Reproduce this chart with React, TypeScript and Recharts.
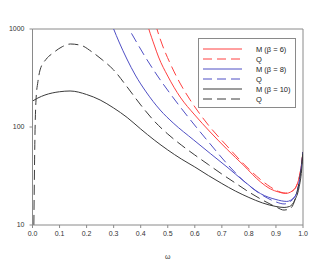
import React from 'react';
import { LineChart, Line, XAxis, YAxis, ReferenceLine, Legend } from 'recharts';

// omega grid + values for each series
const m6W = [0.41, 0.43, 0.45, 0.466, 0.5, 0.546, 0.6, 0.657, 0.72, 0.781, 0.843, 0.88, 0.91, 0.935, 0.96, 0.98, 0.99, 1.0];
const m6V = [1563, 1000, 687, 518, 331, 202, 132.6, 88.9, 58.9, 40.5, 27.5, 23.3, 21.7, 21.0, 22.2, 26.8, 34.7, 55.6];

const q6W = [0.44, 0.46, 0.48, 0.51, 0.545, 0.583, 0.65, 0.719, 0.781, 0.843, 0.88, 0.91, 0.935, 0.96, 0.98, 0.99, 1.0];
const q6V = [1563, 1000, 687, 439, 281, 188.6, 104.8, 64.0, 41.9, 29.1, 24.4, 22.0, 21.2, 22.2, 26.8, 34.7, 55.6];

const m8W = [0.28, 0.3, 0.32, 0.349, 0.38, 0.42, 0.472, 0.52, 0.596, 0.657, 0.719, 0.781, 0.843, 0.9, 0.94, 0.965, 0.98, 0.99, 1.0];
const m8V = [1389, 1000, 737, 494, 339, 228, 149, 110, 73.7, 53.7, 39.1, 28.1, 20.9, 18.2, 17.4, 18.9, 22.8, 32.4, 55.6];

const q8W = [0.34, 0.357, 0.38, 0.417, 0.46, 0.521, 0.59, 0.657, 0.72, 0.781, 0.843, 0.9, 0.93, 0.96, 0.98, 0.99, 1.0];
const q8V = [1236, 1000, 773, 518, 339, 197.7, 112.5, 67.1, 41.9, 28.1, 20.7, 17.2, 16.4, 18.0, 22.8, 32.4, 55.6];

const m10W = [0, 0.02, 0.046, 0.1, 0.139, 0.2, 0.25, 0.3, 0.35, 0.4, 0.45, 0.5, 0.55, 0.6, 0.65, 0.7, 0.75, 0.8, 0.85, 0.9, 0.93, 0.95, 0.97, 0.985, 0.995, 1.0];
const m10V = [184, 197.7, 212, 229, 233, 214.6, 188.6, 156.3, 125, 95.4, 73.7, 58.3, 47.2, 39.1, 32.0, 26.5, 22.2, 19.1, 16.8, 15.45, 15.1, 15.45, 18.0, 23.9, 36.4, 55.6];

const q10W = [0.005, 0.009, 0.013, 0.02, 0.028, 0.05, 0.076, 0.11, 0.14, 0.18, 0.219, 0.26, 0.3, 0.35, 0.4, 0.45, 0.5, 0.55, 0.6, 0.65, 0.7, 0.75, 0.8, 0.85, 0.9, 0.93, 0.955, 0.975, 0.99, 1.0];
const q10V = [10, 80, 189, 290, 382, 490, 569, 660, 703, 680, 586, 480, 382, 256, 168, 115, 84.8, 65.5, 51.8, 41.4, 33.1, 26.8, 21.7, 18.0, 15.3, 14.2, 14.9, 20.2, 32.4, 55.6];

const xTicks = [0, 0.1, 0.2, 0.3, 0.4, 0.5, 0.6, 0.7, 0.8, 0.9, 1.0];
const yTicks = [10, 100, 1000];

const legendLabels = ['M  (\u03b2 = 6)', 'Q', 'M (\u03b2 = 8)', 'Q', 'M (\u03b2 = 10)', 'Q'];

const RED = '#ff4040';
const BLUE = '#4f4fc4';
const BLACK = '#3a3a3a';
const AXIS = '#8a8a8a';
const FONT = 'Liberation Sans, Arial, sans-serif';

const toData = (w: number[], v: number[]) => w.map((x, i) => ({ w: x, v: v[i] }));

const series = [
  { name: legendLabels[0], data: toData(m6W, m6V), color: RED, dash: undefined },
  { name: legendLabels[1], data: toData(q6W, q6V), color: RED, dash: '10 5' },
  { name: legendLabels[2], data: toData(m8W, m8V), color: BLUE, dash: undefined },
  { name: legendLabels[3], data: toData(q8W, q8V), color: BLUE, dash: '10 5' },
  { name: legendLabels[4], data: toData(m10W, m10V), color: BLACK, dash: undefined },
  { name: legendLabels[5], data: toData(q10W, q10V), color: BLACK, dash: '10 5' },
];

const LegendBox = () => (
  <svg width={99} height={71} style={{ display: 'block' }}>
    <rect x={0.5} y={0.5} width={97} height={69} fill="#fff" stroke={AXIS} strokeWidth={1} />
    {series.map((s, i) => (
      <g key={i}>
        <line x1={5} x2={44} y1={11 + i * 10} y2={11 + i * 10} stroke={s.color} strokeWidth={1} strokeDasharray={s.dash ? '9 5' : undefined} />
        <text x={58} y={11 + i * 10} dy="0.35em" fontSize={7.5} fill="#222" fontFamily={FONT}>
          {s.name}
        </text>
      </g>
    ))}
  </svg>
);

export default function App() {
  return (
    <div style={{ position: 'absolute', left: 0, top: 0, width: 319, height: 262, background: '#fff' }}>
      <LineChart width={319} height={262} margin={{ top: 29, right: 16, left: 0, bottom: 0 }}>
        <XAxis
          dataKey="w"
          type="number"
          domain={[0, 1]}
          ticks={xTicks}
          tickFormatter={(t: number) => t.toFixed(1)}
          allowDataOverflow
          height={37}
          stroke={AXIS}
          tickSize={3}
          tickMargin={3}
          tick={{ fontSize: 7, fill: '#333', fontFamily: FONT }}
          label={{ value: '\u03c9', position: 'insideBottom', offset: 3, fontSize: 7, fill: '#333', fontFamily: FONT }}
        />
        <YAxis
          dataKey="v"
          type="number"
          scale="log"
          domain={[10, 1000]}
          ticks={yTicks}
          allowDataOverflow
          width={32.5}
          stroke={AXIS}
          tickSize={3}
          tickMargin={5}
          tick={{ fontSize: 7, fill: '#333', fontFamily: FONT }}
        />
        <ReferenceLine y={1000} stroke={AXIS} />
        <ReferenceLine x={1} stroke={AXIS} />
        {series.map((s, i) => (
          <Line
            key={i}
            data={s.data}
            dataKey="v"
            name={s.name}
            type="monotone"
            stroke={s.color}
            strokeWidth={1}
            strokeDasharray={s.dash}
            dot={false}
            activeDot={false}
            isAnimationActive={false}
          />
        ))}
        <Legend
          layout="vertical"
          align="center"
          verticalAlign="middle"
          wrapperStyle={{ position: 'absolute', left: 198, top: 38, width: 99, height: 71 }}
          content={() => <LegendBox />}
        />
      </LineChart>
    </div>
  );
}
